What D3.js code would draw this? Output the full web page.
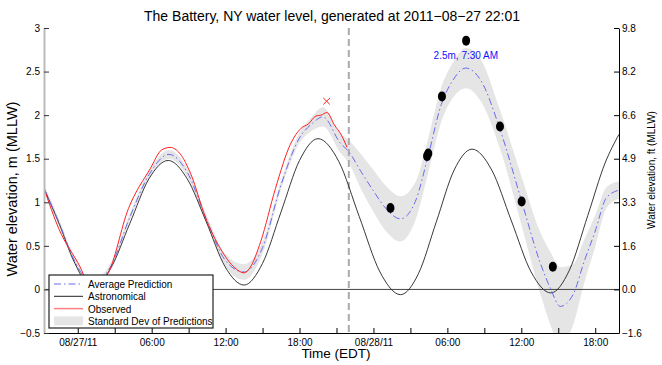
<!DOCTYPE html>
<html>
<head>
<meta charset="utf-8">
<script src="https://cdn.jsdelivr.net/npm/d3@7"></script>
<style>
  body { margin: 0; background: #fff; }
  svg { font-family: "Liberation Sans", Arial, Helvetica, sans-serif; }
  .axis text { font-size: 10px; fill: #000; }
</style>
</head>
<body>
<svg id="chart"></svg>
<script>
// hours are counted from 2011-08-27 00:00 (EDT)
const startHour = -2.74
const endHour = 43.93
const nowHour = 22.0

const astroHours = [-2.74, -1.5, -0.3, 1.1, 2.66, 4.22, 5.78, 7.34, 8.88, 10.42, 11.96, 13.5, 15.0, 16.5,
  18.0, 19.5, 21.18, 22.85, 24.53, 26.2, 27.65, 29.1, 30.55, 32.0, 33.6, 35.2, 36.8, 38.4, 39.9, 41.4, 42.8, 43.93]
const astroLevel = [1.16, 0.75, 0.32, 0.03, 0.24, 0.755, 1.27, 1.48, 1.27, 0.78, 0.26, 0.05, 0.30, 0.89,
  1.48, 1.73, 1.47, 0.835, 0.20, -0.06, 0.18, 0.775, 1.37, 1.61, 1.37, 0.785, 0.20, -0.04, 0.22, 0.85, 1.45, 1.78]

const obsHours = [-2.74, -1.55, 0.24, 1.0, 2.4, 4.12, 5.9, 6.8, 7.49, 8.29, 9.19, 10.38, 11.57, 12.77, 13.5,
  13.96, 14.85, 16.05, 17.24, 18.13, 18.73, 19.33, 19.75, 20.22, 20.82, 21.4, 21.86]
const obsLevel = [1.16, 0.70, 0.245, 0.02, 0.17, 0.93, 1.39, 1.60, 1.63, 1.56, 1.32, 0.82, 0.47, 0.245, 0.19,
  0.245, 0.55, 1.16, 1.66, 1.85, 1.90, 1.99, 2.0, 2.03, 1.89, 1.77, 1.63]

const predHours = [-2.74, -1.5, -0.3, 1.2, 2.7, 4.2, 5.8, 7.4, 8.9, 10.4, 12.0, 13.5, 15.0, 16.5, 18.0, 19.0,
  19.9, 21.3, 22.0, 23.0, 24.0, 25.0, 26.2, 27.4, 28.4, 29.5, 30.4, 31.5, 32.75, 34.24, 36.03, 37.5, 38.4,
  39.16, 40.2, 41.1, 42.0, 42.9, 43.93]
const predLevel = [1.16, 0.76, 0.34, 0.07, 0.27, 0.82, 1.32, 1.55, 1.34, 0.82, 0.33, 0.20, 0.48, 1.20, 1.74, 1.90,
  1.98, 1.68, 1.58, 1.35, 1.13, 0.93, 0.81, 1.01, 1.51, 2.12, 2.39, 2.54, 2.39, 1.85, 1.01, 0.32, 0.0,
  -0.195, -0.06, 0.32, 0.67, 1.05, 1.14]
const predSpread = [0.04, 0.04, 0.04, 0.04, 0.04, 0.04, 0.04, 0.05, 0.05, 0.05, 0.07, 0.09, 0.07, 0.05, 0.06, 0.08,
  0.11, 0.11, 0.13, 0.2, 0.24, 0.26, 0.26, 0.22, 0.2, 0.2, 0.2, 0.23, 0.24, 0.22, 0.28, 0.35, 0.42,
  0.45, 0.35, 0.25, 0.18, 0.12, 0.1]

// forecast points
const markerHours = [25.38, 28.35, 28.45, 29.56, 31.52, 34.27, 36.03, 38.56]
const markerLevel = [0.935, 1.53, 1.56, 2.215, 2.855, 1.87, 1.01, 0.26]

// observed max
const maxHour = 20.2
const maxLevel = 2.16

const peakHour = 31.5
const peakLevel = 2.54
const peakLabel = '2.5m, 7:30 AM'

const yTicks = [-0.5, 0, 0.5, 1, 1.5, 2, 2.5, 3]
const ftPerM = 3.28084

const legendItems = ['Average Prediction', 'Astronomical', 'Observed', 'Standard Dev of Predictions']

const width = 662
const height = 365
const margin = { top: 28, right: 43, bottom: 32, left: 44 }
const w = width - margin.left - margin.right
const h = height - margin.top - margin.bottom

const base = new Date(2011, 7, 27)
const toDate = hr => new Date(+base + hr * 3600e3)

const svg = d3.select('#chart')
  .attr('width', width)
  .attr('height', height)

const chart = svg.append('g')
  .attr('transform', `translate(${margin.left}, ${margin.top})`)

const x = d3.scaleTime()
  .domain([toDate(startHour), toDate(endHour)])
  .range([0, w])

const y = d3.scaleLinear()
  .domain([-0.5, 3])
  .range([h, 0])

const yFt = d3.scaleLinear()
  .domain(y.domain().map(v => v * ftPerM))
  .range([h, 0])

const zip = (hours, vals) => hours.map((hr, i) => ({ t: toDate(hr), v: vals[i] }))

const astro = zip(astroHours, astroLevel)
const obs = zip(obsHours, obsLevel)
const pred = predHours.map((hr, i) => ({ t: toDate(hr), v: predLevel[i], s: predSpread[i] }))
const markers = zip(markerHours, markerLevel)

chart.append('clipPath')
  .attr('id', 'plot-clip')
  .append('rect')
  .attr('width', w)
  .attr('height', h)

const plot = chart.append('g').attr('clip-path', 'url(#plot-clip)')

const line = d3.line()
  .x(d => x(d.t))
  .y(d => y(d.v))
  .curve(d3.curveMonotoneX)

const band = d3.area()
  .x(d => x(d.t))
  .y0(d => y(d.v - d.s))
  .y1(d => y(d.v + d.s))
  .curve(d3.curveMonotoneX)

plot.append('path')
  .datum(pred)
  .attr('d', band)
  .attr('fill', '#e5e5e5')

// zero line
plot.append('line')
  .attr('x1', 0).attr('x2', w)
  .attr('y1', y(0)).attr('y2', y(0))
  .attr('stroke', '#444')
  .attr('stroke-width', 1)

// time of generation
plot.append('line')
  .attr('x1', x(toDate(nowHour))).attr('x2', x(toDate(nowHour)))
  .attr('y1', 0).attr('y2', h)
  .attr('stroke', '#aaa')
  .attr('stroke-width', 2)
  .attr('stroke-dasharray', '7,4')

plot.append('path')
  .datum(astro)
  .attr('d', line)
  .attr('fill', 'none')
  .attr('stroke', '#222')
  .attr('stroke-width', 0.9)

plot.append('path')
  .datum(pred)
  .attr('d', line)
  .attr('fill', 'none')
  .attr('stroke', '#6a6af0')
  .attr('stroke-width', 1)
  .attr('stroke-dasharray', '7,3,1.5,3')

plot.append('path')
  .datum(obs)
  .attr('d', line)
  .attr('fill', 'none')
  .attr('stroke', '#ff2020')
  .attr('stroke-width', 1)

plot.selectAll('.marker')
  .data(markers)
  .enter().append('ellipse')
  .attr('class', 'marker')
  .attr('cx', d => x(d.t))
  .attr('cy', d => y(d.v))
  .attr('rx', 4)
  .attr('ry', 5)
  .attr('fill', '#000')

plot.append('path')
  .attr('d', d3.symbol(d3.symbolTimes, 30))
  .attr('transform', `translate(${x(toDate(maxHour))}, ${y(maxLevel)})`)
  .attr('fill', 'none')
  .attr('stroke', '#ff2020')
  .attr('stroke-width', 1)

chart.append('text')
  .attr('x', x(toDate(peakHour)))
  .attr('y', y(peakLevel) - 9)
  .attr('text-anchor', 'middle')
  .attr('font-size', 10)
  .attr('fill', '#1010ff')
  .text(peakLabel)

// axes
const fmtDay = d3.timeFormat('%m/%d/%y')
const fmtHour = d3.timeFormat('%H:%M')

const xAxis = d3.axisBottom(x)
  .ticks(d3.timeHour.every(3))
  .tickSize(-5)
  .tickSizeOuter(0)
  .tickPadding(6)
  .tickFormat(d => d.getHours() === 0 ? fmtDay(d) : d.getHours() % 6 === 0 ? fmtHour(d) : '')

const yAxis = d3.axisLeft(y)
  .tickValues(yTicks)
  .tickSize(-5)
  .tickSizeOuter(0)
  .tickPadding(4)
  .tickFormat(d3.format(''))

const yAxisFt = d3.axisRight(yFt)
  .tickValues(yTicks.map(v => v * ftPerM))
  .tickSize(-5)
  .tickSizeOuter(0)
  .tickPadding(3)
  .tickFormat(d3.format('.1f'))

const gx = chart.append('g')
  .attr('class', 'x axis')
  .attr('transform', `translate(0, ${h})`)
  .call(xAxis)

const gy = chart.append('g')
  .attr('class', 'y axis')
  .call(yAxis)

const gyr = chart.append('g')
  .attr('class', 'y axis')
  .attr('transform', `translate(${w}, 0)`)
  .call(yAxisFt)

gy.select('.domain').attr('stroke', '#bbb').attr('stroke-width', 2)
gy.selectAll('.tick line').attr('stroke', '#333')
gx.select('.domain').attr('stroke', '#000')
gyr.select('.domain').attr('stroke', '#000')

// legend
const legend = chart.append('g')
  .attr('transform', `translate(${49 - margin.left}, ${275 - margin.top})`)

legend.append('rect')
  .attr('width', 164)
  .attr('height', 53)
  .attr('fill', '#fff')
  .attr('stroke', '#222')
  .attr('stroke-width', 1.2)

const row = legend.selectAll('.row')
  .data(legendItems)
  .enter().append('g')
  .attr('class', 'row')
  .attr('transform', (d, i) => `translate(0, ${9 + i * 12.3})`)

row.append('text')
  .attr('x', 39)
  .attr('y', 4)
  .attr('font-size', 10)
  .text(d => d)

row.filter((d, i) => i === 0).append('line')
  .attr('x1', 5).attr('x2', 34)
  .attr('stroke', '#6a6af0')
  .attr('stroke-dasharray', '7,3,1.5,3')

row.filter((d, i) => i === 1).append('line')
  .attr('x1', 5).attr('x2', 34)
  .attr('stroke', '#222')

row.filter((d, i) => i === 2).append('line')
  .attr('x1', 5).attr('x2', 34)
  .attr('stroke', '#ff8080')
  .attr('stroke-width', 1.5)

row.filter((d, i) => i === 3).append('rect')
  .attr('x', 5).attr('y', -4.5)
  .attr('width', 29).attr('height', 9)
  .attr('fill', '#e5e5e5')

// titles
svg.append('text')
  .attr('x', 332)
  .attr('y', 21)
  .attr('text-anchor', 'middle')
  .attr('font-size', 14)
  .text('The Battery, NY water level, generated at 2011\u221208\u221227 22:01')

svg.append('text')
  .attr('x', 336)
  .attr('y', 358)
  .attr('text-anchor', 'middle')
  .attr('font-size', 13.5)
  .text('Time (EDT)')

svg.append('text')
  .attr('transform', 'translate(17, 189) rotate(-90)')
  .attr('text-anchor', 'middle')
  .attr('font-size', 14.5)
  .text('Water elevation, m (MLLW)')

svg.append('text')
  .attr('transform', 'translate(655, 170) rotate(-90)')
  .attr('text-anchor', 'middle')
  .attr('font-size', 10)
  .text('Water elevation, ft (MLLW)')
</script>
</body>
</html>
